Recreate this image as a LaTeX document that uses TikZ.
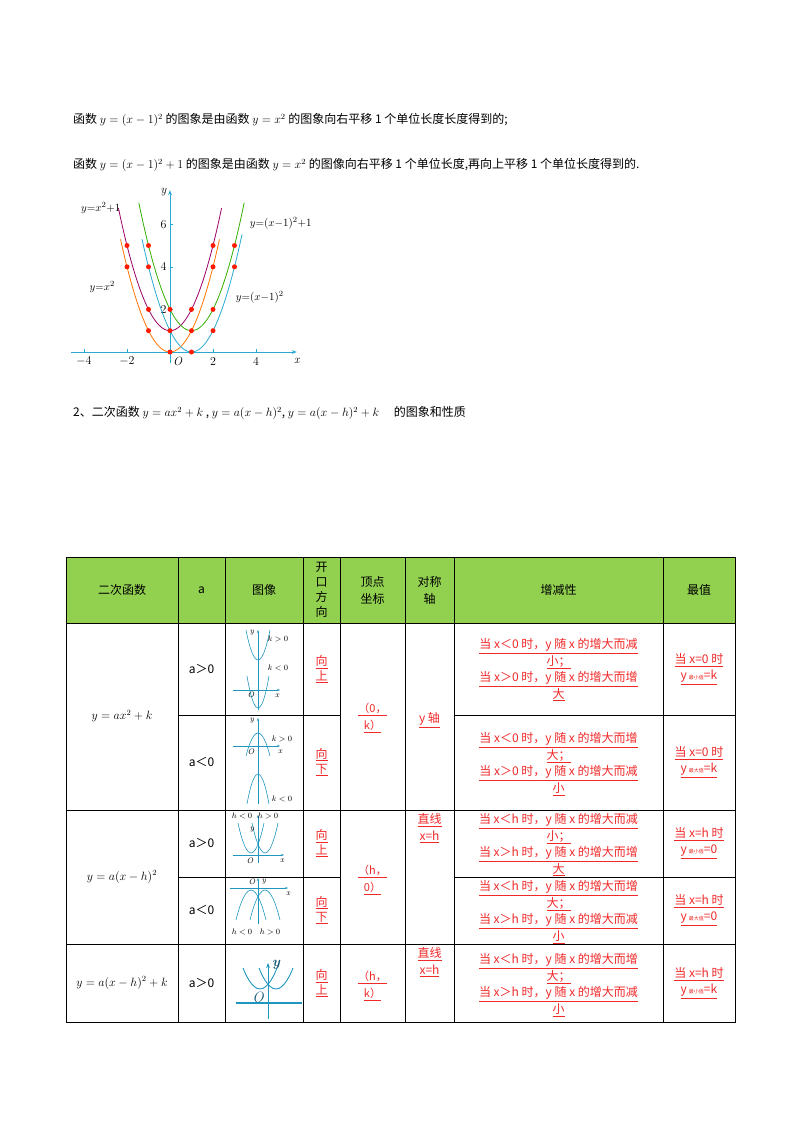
\documentclass[tikz,border=0pt]{standalone}
\usepackage{fontspec}
\newfontfamily\cjk{Noto Sans CJK SC}
\usetikzlibrary{arrows.meta}
\definecolor{hdr}{RGB}{146,208,80}
\definecolor{rd}{RGB}{240,40,40}
\definecolor{cy}{RGB}{40,170,210}
\definecolor{tq}{RGB}{30,150,190}
\newcommand{\U}[1]{\underline{#1}}
\tikzset{
 txt/.style={font=\cjk\fontsize{12}{14}\selectfont, inner sep=0pt},
 cell/.style={font=\cjk\fontsize{12}{14}\selectfont, align=center, inner sep=0pt},
 red/.style={cell, text=rd, font=\cjk\fontsize{12}{16.5}\selectfont},
 crv/.style={line width=0.8pt},
 ico/.style={tq, line width=0.6pt},
 icl/.style={font=\fontsize{8}{8}\selectfont\itshape, inner sep=0pt},
 dot/.style={circle, fill=red!80!orange, inner sep=0pt, minimum size=5pt}
}
\begin{document}
\begin{tikzpicture}[x=1pt,y=-1pt]
\useasboundingbox (0,0) rectangle (800,1132);
% top text
\node[txt, anchor=west] (l1) at (73,120) {函数 $y=(x-1)^2$ 的图象是由函数 $y=x^2$ 的图象向右平移 1 个单位长度长度得到的;};
\node[txt, anchor=west] (l2) at (73,165) {函数 $y=(x-1)^2+1$ 的图象是由函数 $y=x^2$ 的图像向右平移 1 个单位长度,再向上平移 1 个单位长度得到的.};
% graph
\begin{scope}[shift={(170,352)}, x=21.5pt, y=21.3pt]
 \draw[cy, line width=0.9pt, -{Stealth[length=5pt]}] (-4.6,0) -- (5.9,0);
 \draw[cy, line width=0.9pt, -{Stealth[length=5pt]}] (0,-0.5) -- (0,7.6);
 \foreach \t in {-4,-2,2,4} \draw[cy] (\t,0) -- (\t,0.15);
 \foreach \t in {2,4,6} \draw[cy] (0,\t) -- (0.15,\t);
 \foreach \t/\l in {-4/$-4$,-2/$-2$,2/2,4/4} \node[font=\fontsize{12}{12}\selectfont] at (\t,-0.45) {\l};
 \node[font=\fontsize{12}{12}\selectfont\itshape] at (0.35,-0.45) {O};
 \node[font=\fontsize{12}{12}\selectfont\itshape] at (5.9,-0.4) {x};
 \node[font=\fontsize{12}{12}\selectfont\itshape] at (-0.3,7.5) {y};
 \foreach \t in {2,4,6} \node[font=\fontsize{12}{12}\selectfont] at (-0.3,\t) {\t};
 \draw[orange!90!red, crv, domain=-2.3:2.3, samples=50] plot (\x,{\x*\x});
 \draw[violet!80!red, crv, domain=-2.4:2.4, samples=50] plot (\x,{\x*\x+1});
 \draw[cy, crv, domain=-1.3:3.35, samples=50] plot (\x,{(\x-1)^2});
 \draw[green!60!black!80!yellow, crv, domain=-1.45:3.45, samples=50] plot (\x,{(\x-1)^2+1});
 \foreach \a/\b in {-2/4,-1/1,0/0,1/1,2/4,-2/5,-1/2,0/1,1/2,2/5,-1/4,1/0,2/1,3/4,-1/5,0/2,2/2,3/5}
   \node[dot] at (\a,\b) {};
 \node[font=\fontsize{11}{11}\selectfont, anchor=west] at (-4.3,6.75) {$y{=}x^2{+}1$};
 \node[font=\fontsize{11}{11}\selectfont, anchor=west] at (-3.9,3.05) {$y{=}x^2$};
 \node[font=\fontsize{11}{11}\selectfont, anchor=west] at (3.55,6.05) {$y{=}(x{-}1)^2{+}1$};
 \node[font=\fontsize{11}{11}\selectfont, anchor=west] at (2.9,2.55) {$y{=}(x{-}1)^2$};
\end{scope}
\node[txt, anchor=west] (l3) at (73,413) {2、二次函数 $y=ax^2+k$ , $y=a(x-h)^2$, $y=a(x-h)^2+k$ \quad 的图象和性质};
% table
\fill[hdr] (66,557) rectangle (735,623);
\draw[line width=0.8pt] (66,557) rectangle (735,1022);
\foreach \y in {623,810,944} \draw[line width=0.6pt] (66,\y) -- (735,\y);
\foreach \y in {715,877} {\draw[line width=0.6pt] (178,\y) -- (340,\y); \draw[line width=0.6pt] (454,\y) -- (735,\y);}
\foreach \x in {178,225,303,340,405,454,663} \draw[line width=0.6pt] (\x,557) -- (\x,1022);
% header
\node[cell] (h1) at (122,590) {二次函数};
\node[cell] (h2) at (201.5,590) {a};
\node[cell] (h3) at (264,590) {图像};
\node[cell, font=\cjk\fontsize{12}{15}\selectfont] (h4) at (321.5,590) {开\\口\\方\\向};
\node[cell, font=\cjk\fontsize{12}{17}\selectfont] (h5) at (372.5,590) {顶点\\坐标};
\node[cell, font=\cjk\fontsize{12}{17}\selectfont] (h6) at (429.5,590) {对称\\轴};
\node[cell] (h7) at (558.5,590) {增减性};
\node[cell] (h8) at (699,590) {最值};
% col 1
\node[cell] (f1) at (122,716) {$y=ax^2+k$};
\node[cell] (f2) at (122,877) {$y=a(x-h)^2$};
\node[cell] (f3) at (122,983) {$y=a(x-h)^2+k$};
% col a
\node[cell] (a1) at (201.5,669) {a＞0};
\node[cell] (a2) at (201.5,762) {a＜0};
\node[cell] (a3) at (201.5,843) {a＞0};
\node[cell] (a4) at (201.5,910) {a＜0};
\node[cell] (a5) at (201.5,983) {a＞0};
% icons
\begin{scope}[shift={(258,690)}]
 \draw[ico,-{Stealth[length=3pt]}] (0,20) -- (0,-60);
 \draw[ico,-{Stealth[length=3pt]}] (-25,0) -- (22,0);
 \draw[ico] (-12,-60) parabola bend (0,-30) (12,-60);
 \draw[ico] (-11,-14) parabola bend (0,18) (11,-14);
 \node[icl] at (-6,-57) {y}; \node[icl] at (20,-51) {$k>0$}; \node[icl] at (20,-22) {$k<0$};
 \node[icl] at (-7,5) {O}; \node[icl] at (19,6) {x};
\end{scope}
\begin{scope}[shift={(258,746)}]
 \draw[ico,-{Stealth[length=3pt]}] (0,58) -- (0,-28);
 \draw[ico,-{Stealth[length=3pt]}] (-25,0) -- (22,0);
 \draw[ico] (-12,10) parabola bend (0,-13) (12,10);
 \draw[ico] (-11,58) parabola bend (0,28) (11,58);
 \node[icl] at (-6,-25) {y}; \node[icl] at (24,-7) {$k>0$}; \node[icl] at (24,53) {$k<0$};
 \node[icl] at (-7,6) {O}; \node[icl] at (22,6) {x};
\end{scope}
\begin{scope}[shift={(258,855)}]
 \draw[ico,-{Stealth[length=3pt]}] (0,8) -- (0,-40);
 \draw[ico,-{Stealth[length=3pt]}] (-25,0) -- (26,0);
 \draw[ico] (-20,-32) parabola bend (-7,-2) (6,-32);
 \draw[ico] (-6,-32) parabola bend (7,-2) (20,-32);
 \node[icl] at (-16,-39) {$h<0$}; \node[icl] at (10,-39) {$h>0$};
 \node[icl] at (-6,-25) {y}; \node[icl] at (-8,6) {O}; \node[icl] at (24,6) {x};
\end{scope}
\begin{scope}[shift={(258,888)}]
 \draw[ico,-{Stealth[length=3pt]}] (0,36) -- (0,-10);
 \draw[ico,-{Stealth[length=3pt]}] (-28,0) -- (30,0);
 \draw[ico] (-22,32) parabola bend (-7,2) (8,32);
 \draw[ico] (-8,32) parabola bend (7,2) (22,32);
 \node[icl] at (-6,-6) {O}; \node[icl] at (6,-6) {y}; \node[icl] at (30,6) {x};
 \node[icl] at (-16,44) {$h<0$}; \node[icl] at (12,44) {$h>0$};
\end{scope}
\begin{scope}[shift={(268,1003)}]
 \draw[tq, line width=1.2pt] (-32,0) -- (34,0);
 \draw[tq, line width=0.9pt,-{Stealth[length=5pt]}] (0,16) -- (0,-40);
 \draw[tq, line width=0.9pt] (-25,-35) parabola bend (-8,-14) (9,-35);
 \draw[tq, line width=0.9pt] (-9,-35) parabola bend (8,-14) (25,-35);
 \node[font=\fontsize{14}{14}\selectfont\itshape\bfseries, text=tq!60!black] at (8,-38) {y};
 \node[font=\fontsize{15}{15}\selectfont\itshape, text=tq!60!black] at (-10,-6) {O};
\end{scope}
% direction
\node[red, font=\cjk\fontsize{12}{15}\selectfont] (d1) at (321.5,669) {\U{向}\\\U{上}};
\node[red, font=\cjk\fontsize{12}{15}\selectfont] (d2) at (321.5,762) {\U{向}\\\U{下}};
\node[red, font=\cjk\fontsize{12}{15}\selectfont] (d3) at (321.5,843) {\U{向}\\\U{上}};
\node[red, font=\cjk\fontsize{12}{15}\selectfont] (d4) at (321.5,910) {\U{向}\\\U{下}};
\node[red, font=\cjk\fontsize{12}{15}\selectfont] (d5) at (321.5,983) {\U{向}\\\U{上}};
% vertex
\node[red, font=\cjk\fontsize{11}{17}\selectfont] (v1) at (372.5,718) {\U{（0，}\\\U{k）}};
\node[red, font=\cjk\fontsize{11}{17}\selectfont] (v2) at (372.5,880) {\U{（h，}\\\U{0）}};
\node[red, font=\cjk\fontsize{11}{17}\selectfont] (v3) at (372.5,986) {\U{（h，}\\\U{k）}};
% axis
\node[red] (s1) at (429.5,720) {\U{y 轴}};
\node[red] (s2) at (429.5,828) {\U{直线}\\\U{x=h}};
\node[red] (s3) at (429.5,962) {\U{直线}\\\U{x=h}};
% monotonic
\node[red] (m1) at (558.5,670) {\U{当 x＜0 时，y 随 x 的增大而减}\\\U{小；}\\\U{当 x＞0 时，y 随 x 的增大而增}\\\U{大}};
\node[red] (m2) at (558.5,764) {\U{当 x＜0 时，y 随 x 的增大而增}\\\U{大；}\\\U{当 x＞0 时，y 随 x 的增大而减}\\\U{小}};
\node[red] (m3) at (558.5,845) {\U{当 x＜h 时，y 随 x 的增大而减}\\\U{小；}\\\U{当 x＞h 时，y 随 x 的增大而增}\\\U{大}};
\node[red] (m4) at (558.5,912) {\U{当 x＜h 时，y 随 x 的增大而增}\\\U{大；}\\\U{当 x＞h 时，y 随 x 的增大而减}\\\U{小}};
\node[red] (m5) at (558.5,985) {\U{当 x＜h 时，y 随 x 的增大而增}\\\U{大；}\\\U{当 x＞h 时，y 随 x 的增大而减}\\\U{小}};
% extreme
\node[red] (e1) at (699,669) {\U{当 x=0 时}\\\U{y\,{\tiny 最小值}=k}};
\node[red] (e2) at (699,762) {\U{当 x=0 时}\\\U{y\,{\tiny 最大值}=k}};
\node[red] (e3) at (699,843) {\U{当 x=h 时}\\\U{y\,{\tiny 最小值}=0}};
\node[red] (e4) at (699,910) {\U{当 x=h 时}\\\U{y\,{\tiny 最大值}=0}};
\node[red] (e5) at (699,983) {\U{当 x=h 时}\\\U{y\,{\tiny 最小值}=k}};
\end{tikzpicture}
\end{document}
